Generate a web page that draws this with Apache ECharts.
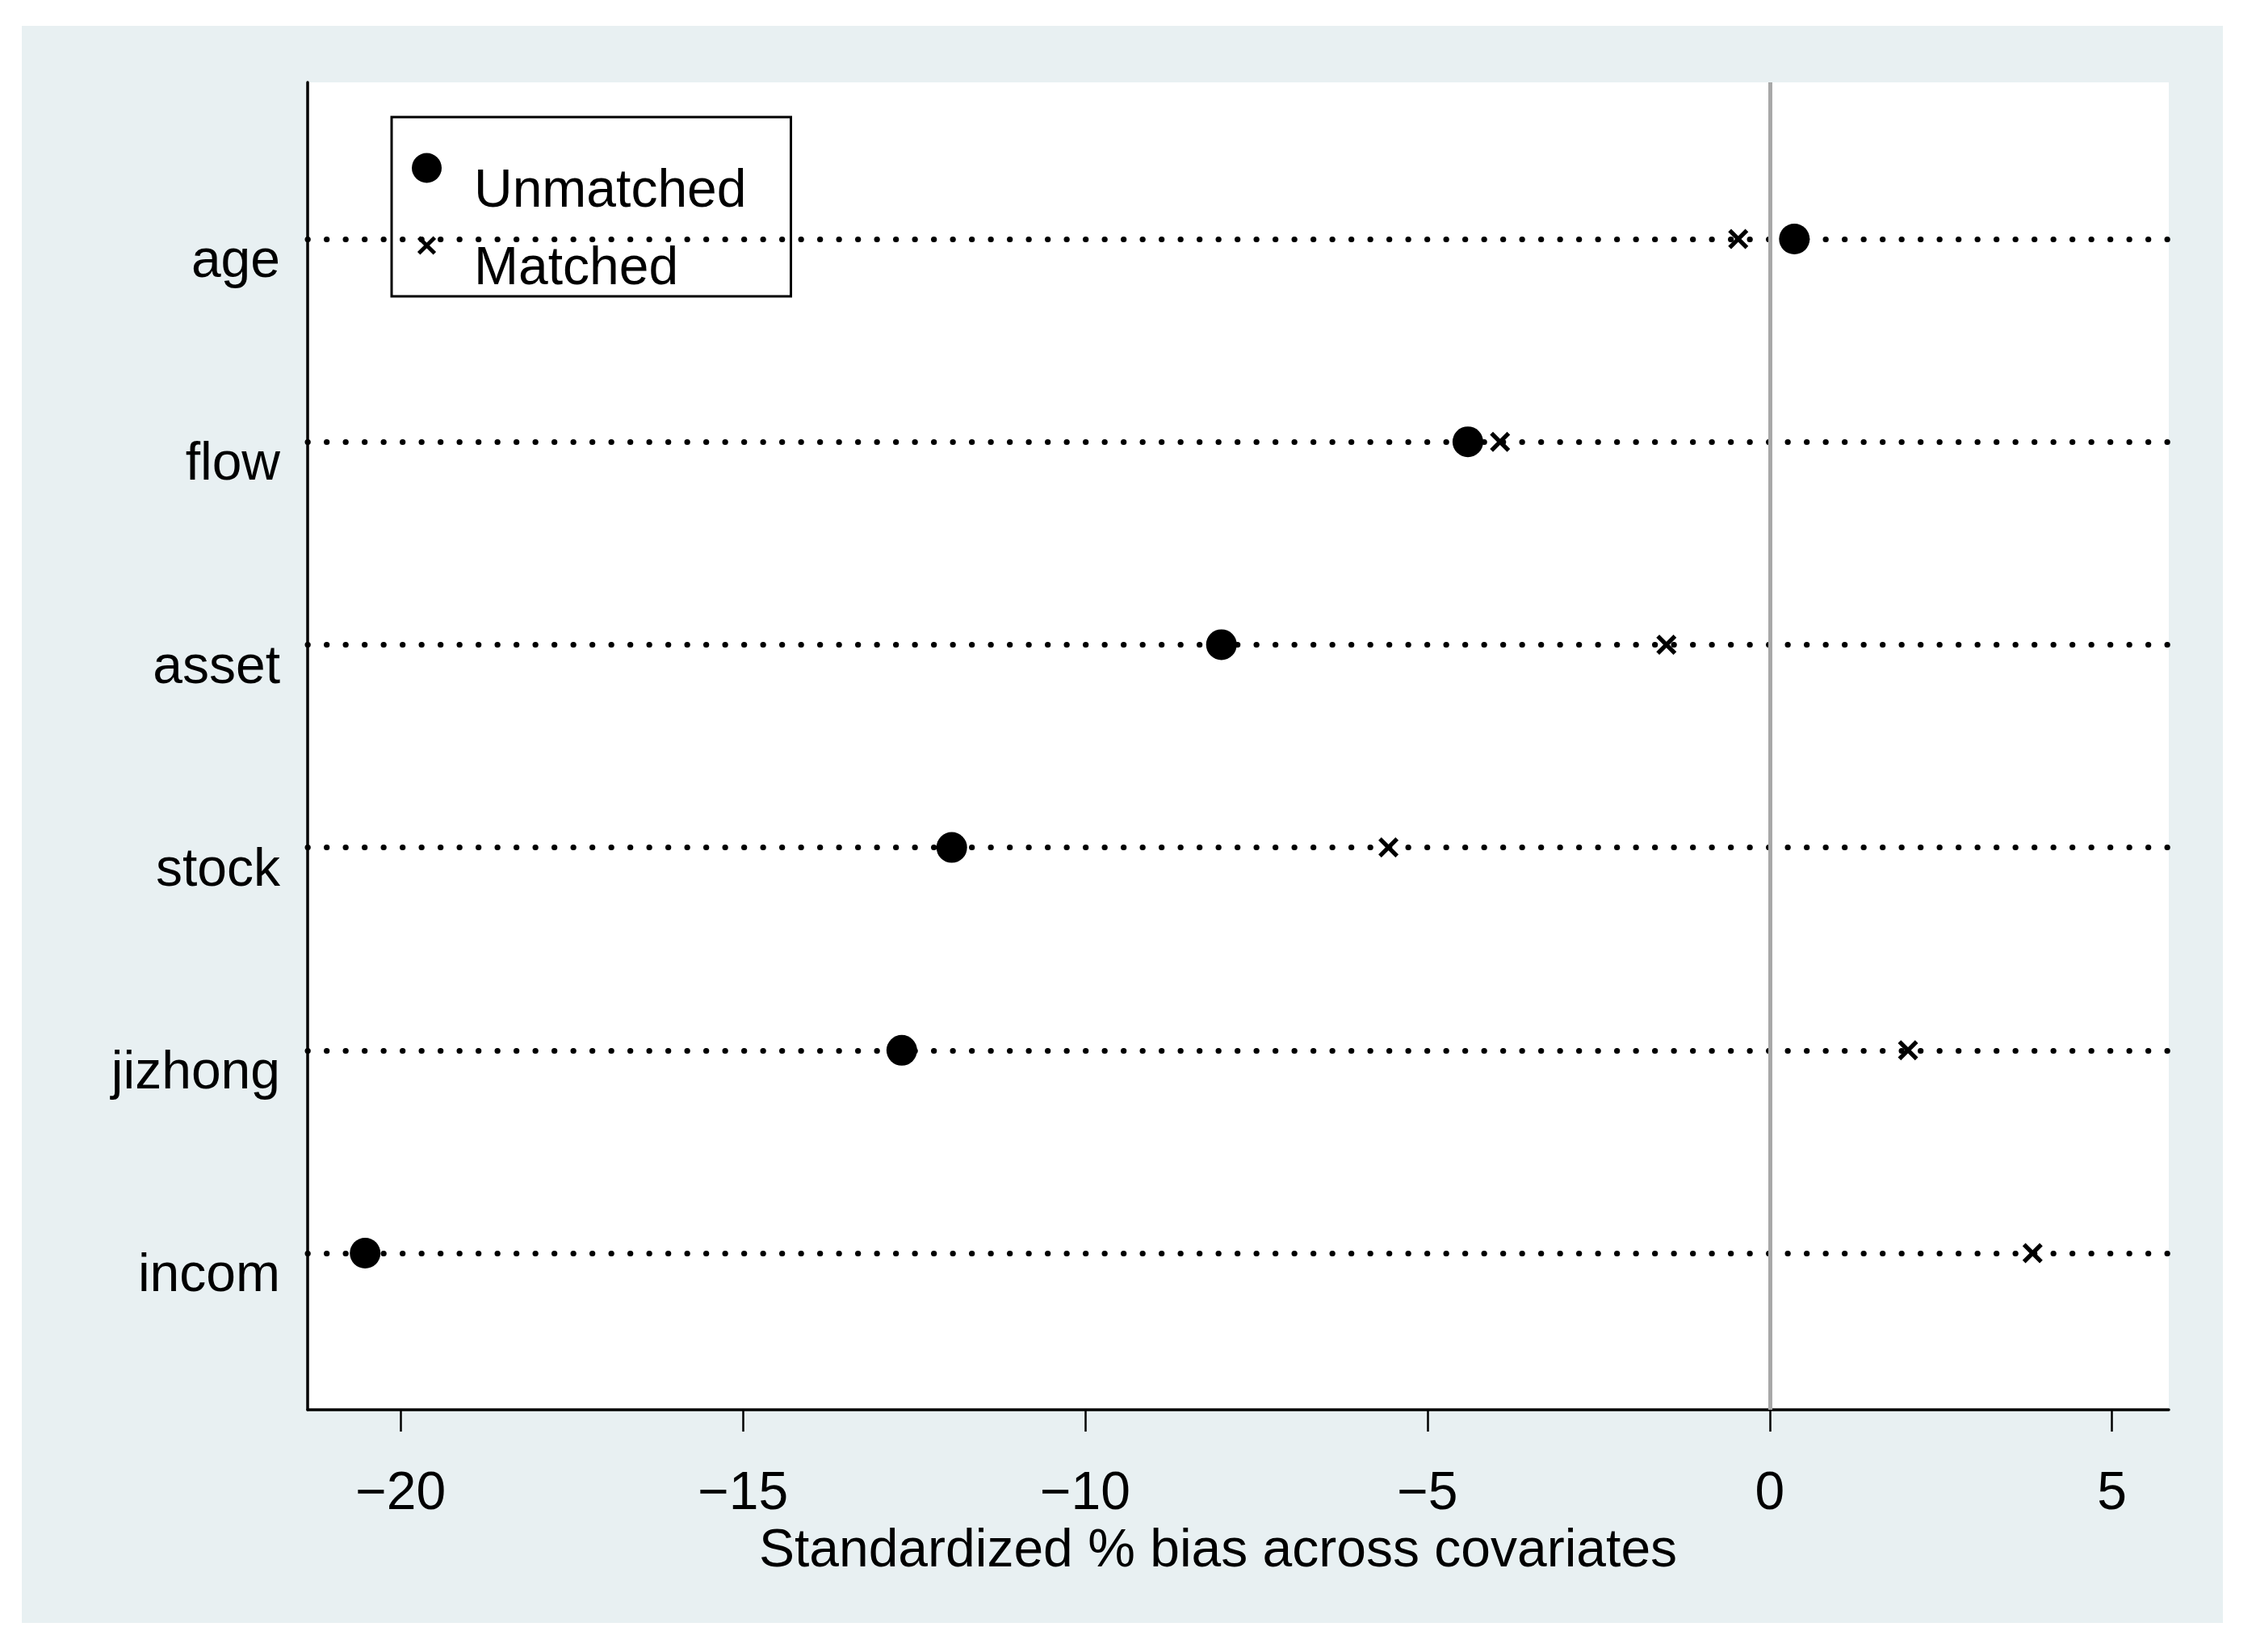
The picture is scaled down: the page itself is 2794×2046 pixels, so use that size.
<!DOCTYPE html>
<html>
<head>
<meta charset="utf-8">
<script src="https://cdn.jsdelivr.net/npm/echarts@6/dist/echarts.min.js"></script>
<style>
  html, body { margin: 0; padding: 0; background: #ffffff; }
  #panel { position: absolute; left: 27px; top: 32px; width: 2726px; height: 1978px; background: #E8F0F2; }
  #chart { width: 2726px; height: 1978px; }
</style>
</head>
<body>
<div id="panel"><div id="chart"></div></div>
<script>
const categories = ['age', 'flow', 'asset', 'stock', 'jizhong', 'incom'];
const unmatched = [0.36, -4.41, -8.01, -11.95, -12.68, -20.52];
const matched = [-0.46, -3.94, -1.51, -5.57, 2.02, 3.84];
const xTicks = [-20, -15, -10, -5, 0, 5];
const xTitle = 'Standardized % bias across covariates';

const FONT = '"Liberation Sans", Arial, Helvetica, sans-serif';
const crossPath = 'path://M1.5,0 L5,3.5 L8.5,0 L10,1.5 L6.5,5 L10,8.5 L8.5,10 L5,6.5 L1.5,10 L0,8.5 L3.5,5 L0,1.5 Z';
const crossLegend = 'path://M-3,-3 M13,13 M1.5,0 L5,3.5 L8.5,0 L10,1.5 L6.5,5 L10,8.5 L8.5,10 L5,6.5 L1.5,10 L0,8.5 L3.5,5 L0,1.5 Z';
const yPos = categories.map((c, i) => i + 1);

const chart = echarts.init(document.getElementById('chart'), null, { renderer: 'canvas' });
chart.setOption({
  backgroundColor: 'transparent',
  animation: false,
  grid: {
    left: 354, top: 70, right: 67, bottom: 264,
    show: true, backgroundColor: '#ffffff', borderWidth: 0
  },
  legend: {
    data: [
      { name: 'Unmatched', icon: 'circle' },
      { name: 'Matched', icon: crossLegend }
    ],
    orient: 'vertical',
    left: 458, top: 113,
    padding: [0, 55, 0, 25],
    itemWidth: 37, itemHeight: 37, itemGap: -30,
    borderColor: '#000', borderWidth: 3, backgroundColor: '#fff', borderRadius: 0,
    selectedMode: false,
    formatter: '{t|{name}}',
    textStyle: {
      fontSize: 66, fontFamily: FONT, color: '#000',
      rich: { t: { fontSize: 66, fontFamily: FONT, color: '#000', lineHeight: 66, padding: [60, 0, 0, 35] } }
    }
  },
  xAxis: {
    type: 'value',
    min: -21.36, max: 5.83,
    name: xTitle,
    nameLocation: 'middle',
    nameGap: 139,
    nameTextStyle: { fontSize: 66, fontFamily: FONT, color: '#000', padding: [0, 50, 0, 0] },
    axisLine: { show: true, onZero: false, lineStyle: { color: '#000', width: 3.5 } },
    axisTick: { show: true, customValues: xTicks, length: 27, lineStyle: { color: '#000', width: 2.5 } },
    axisLabel: {
      customValues: xTicks, margin: 72, fontSize: 66, fontFamily: FONT, color: '#000',
      formatter: v => (v < 0 ? '\u2212' + Math.abs(v) : String(v))
    },
    splitLine: { show: false }
  },
  yAxis: {
    type: 'value',
    inverse: true,
    min: 0.228, max: 6.772,
    axisLine: { show: true, onZero: false, lineStyle: { color: '#000', width: 3.5 } },
    axisTick: { show: false },
    axisLabel: {
      customValues: yPos, margin: 34, fontSize: 66, fontFamily: FONT, color: '#000',
      formatter: v => '{c|' + (categories[Math.round(v) - 1] || '') + '}',
      rich: { c: { fontSize: 66, fontFamily: FONT, color: '#000', lineHeight: 66, padding: [58, 0, 0, 0] } }
    },
    splitLine: { show: false }
  },
  series: [
    {
      name: 'guides',
      type: 'line',
      data: [],
      z: 1,
      silent: true,
      markLine: {
        silent: true,
        symbol: ['none', 'none'],
        label: { show: false },
        animation: false,
        data: yPos.map(v => ({ yAxis: v, lineStyle: { color: '#000', width: 7, type: [0.3, 23.2], cap: 'round' } }))
          .concat([{ xAxis: 0, lineStyle: { color: '#A8A8A8', width: 5, type: 'solid' } }])
      }
    },
    {
      name: 'Unmatched',
      type: 'scatter',
      z: 3,
      symbol: 'circle',
      symbolSize: 38,
      itemStyle: { color: '#000', opacity: 1 },
      data: unmatched.map((v, i) => [v, yPos[i]])
    },
    {
      name: 'Matched',
      type: 'scatter',
      z: 3,
      symbol: crossPath,
      symbolSize: 25,
      itemStyle: { color: '#000', opacity: 1 },
      data: matched.map((v, i) => [v, yPos[i]])
    }
  ]
});
</script>
</body>
</html>
